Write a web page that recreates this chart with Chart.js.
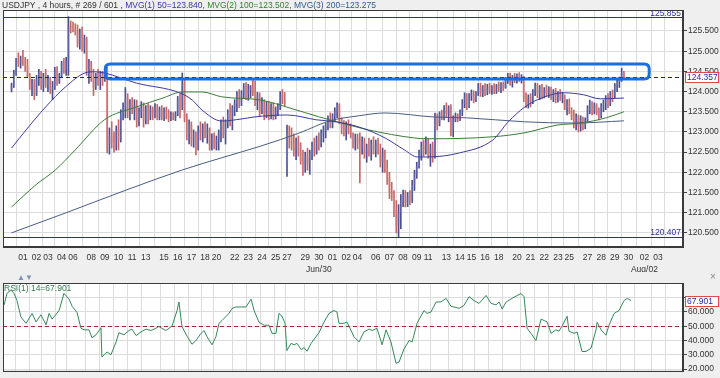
<!DOCTYPE html>
<html><head><meta charset="utf-8">
<script src="https://cdn.jsdelivr.net/npm/chart.js@4.4.0/dist/chart.umd.min.js"></script>
<style>
html,body{margin:0;padding:0;background:#efefef;}
body{width:720px;height:378px;position:relative;overflow:hidden;font-family:"Liberation Sans",Arial,sans-serif;}
#main{position:absolute;left:0;top:0;width:720px;height:272px;}
#rsi{position:absolute;left:0;top:272px;width:720px;height:106px;}
#hdr{position:absolute;left:2px;top:0px;font-size:8.5px;line-height:10px;color:#333;white-space:nowrap;}
#arrows{position:absolute;left:17px;top:273px;font-size:8px;line-height:9px;color:#7f93b5;}
#xbtn{position:absolute;left:710px;top:271px;font-size:10px;line-height:11px;color:#888;}
#rsiLbl{position:absolute;left:4px;top:283px;font-size:8.5px;line-height:10px;color:#2f8050;}
</style></head>
<body>
<div id="main"><canvas id="c1"></canvas></div>
<div id="rsi"><canvas id="c2"></canvas></div>
<div id="hdr">USDJPY , 4 hours, # 269 / 601 , <span style="color:#3535a5">MVG(1) 50=123.840,</span> <span style="color:#2f7f2f">MVG(2) 100=123.502,</span> <span style="color:#2d5a8c">MVG(3) 200=123.275</span></div>
<div id="arrows">▲▼</div>
<div id="xbtn">×</div>
<div id="rsiLbl">RSI(1) 14=67.901</div>
<script>
// ---------- DATA ----------
const opens = [124.05,124.15,124.45,124.75,124.70,124.82,124.75,124.62,124.40,124.12,
124.20,123.95,124.30,124.45,124.15,124.35,124.20,124.30,124.05,124.10,
124.50,124.25,124.40,124.70,124.55,124.75,125.62,125.60,125.55,125.50,
125.20,125.45,125.10,125.30,124.55,124.70,124.35,124.10,124.40,124.25,
124.45,124.30,124.55,122.70,122.90,122.75,122.65,123.05,122.80,123.45,
123.60,123.85,123.50,123.70,123.55,123.65,123.25,123.50,123.60,123.30,
123.55,123.40,123.55,123.45,123.60,123.38,123.55,123.40,123.50,123.45,
123.35,123.42,123.35,123.45,123.80,123.60,124.20,123.35,122.95,123.15,
122.80,122.90,122.60,123.05,122.95,123.10,122.95,123.05,122.70,122.85,
122.65,122.80,122.95,123.20,122.95,123.25,123.45,123.30,123.60,123.70,
123.90,123.75,123.95,124.10,123.95,124.05,124.12,124.00,123.75,123.90,
123.50,123.70,123.40,123.65,123.45,123.60,123.38,123.55,123.62,123.90,
123.80,122.20,122.95,122.85,122.70,122.55,122.75,122.50,122.30,122.10,
122.40,122.20,122.45,122.65,122.50,122.80,122.70,122.95,123.05,123.15,
123.30,123.20,123.40,123.50,123.65,123.30,123.10,123.00,123.15,123.05,
122.95,122.75,122.85,122.70,122.60,122.75,122.45,122.60,122.55,122.70,
122.55,122.72,122.50,122.25,122.45,122.10,121.85,121.50,121.40,121.05,
120.70,121.00,121.30,121.45,121.25,121.40,121.30,121.70,121.95,122.15,
122.45,122.65,122.55,122.75,122.45,122.60,122.40,123.35,123.20,123.45,
123.40,123.55,123.45,123.60,123.05,123.30,123.40,123.35,123.50,123.70,
123.85,123.65,123.90,123.95,123.80,123.98,124.10,123.95,124.12,124.00,
124.10,124.05,124.12,124.00,124.15,124.08,124.18,124.10,124.30,124.38,
124.25,124.35,124.30,124.40,124.32,124.36,123.85,123.70,123.85,123.75,
124.00,124.15,123.95,124.10,123.90,124.05,123.95,124.08,123.88,124.00,
123.80,123.95,123.85,123.90,123.60,123.70,123.50,123.40,123.20,123.35,
123.15,123.30,123.15,123.30,123.55,123.70,123.50,123.65,123.48,123.40,
123.65,123.72,123.80,123.70,123.95,123.90,124.15,124.25,124.30,124.45];
const highs = [124.21,124.53,124.82,124.96,124.88,125.02,124.85,124.80,124.45,124.30,
124.30,124.40,124.55,124.50,124.45,124.55,124.40,124.35,124.25,124.60,
124.62,124.45,124.75,124.82,124.85,125.855,125.75,125.72,125.68,125.65,
125.55,125.60,125.40,125.35,124.80,124.75,124.55,124.45,124.55,124.50,
124.50,124.62,124.60,123.10,123.25,123.00,123.15,123.30,123.55,123.72,
124.10,123.95,123.80,123.85,123.80,123.79,123.60,123.75,123.72,123.65,
123.70,123.65,123.62,123.70,123.68,123.62,123.65,123.60,123.62,123.55,
123.50,123.48,123.50,123.88,123.95,124.46,124.30,123.45,123.30,123.25,
123.05,123.00,123.15,123.25,123.20,123.25,123.20,123.10,122.95,122.98,
122.90,123.05,123.30,123.37,123.30,123.55,123.70,123.65,123.80,124.00,
124.05,124.02,124.20,124.22,124.18,124.15,124.29,124.26,123.98,123.97,
123.85,123.80,123.75,123.75,123.70,123.72,123.62,123.70,124.00,124.05,
123.98,123.17,123.15,123.10,122.95,122.85,122.90,122.73,122.55,122.50,
122.60,122.55,122.75,122.85,122.90,122.98,123.05,123.15,123.22,123.40,
123.47,123.45,123.60,123.72,123.70,123.35,123.28,123.25,123.30,123.20,
122.98,122.95,122.95,122.98,122.88,122.85,122.70,122.85,122.80,122.88,
122.80,122.85,122.70,122.60,122.55,122.30,122.00,121.75,121.55,121.30,
121.20,121.45,121.56,121.55,121.50,121.55,121.80,122.05,122.25,122.55,
122.75,122.80,122.88,122.85,122.70,122.75,123.47,123.45,123.50,123.54,
123.65,123.72,123.65,123.68,123.40,123.47,123.45,123.55,123.80,123.97,
123.95,123.95,124.04,124.02,124.00,124.20,124.21,124.15,124.20,124.18,
124.21,124.15,124.20,124.18,124.24,124.22,124.24,124.35,124.45,124.46,
124.40,124.45,124.44,124.47,124.42,124.38,123.97,123.92,123.95,124.05,
124.21,124.20,124.15,124.18,124.10,124.16,124.12,124.11,124.05,124.08,
124.00,124.05,123.98,123.92,123.80,123.82,123.60,123.54,123.45,123.42,
123.40,123.37,123.35,123.65,123.79,123.75,123.72,123.70,123.60,123.70,
123.79,123.90,123.95,124.00,124.04,124.20,124.30,124.36,124.58,124.50];
const lows = [123.99,124.10,124.40,124.62,124.58,124.65,124.50,124.36,124.05,123.90,
123.80,123.90,124.15,124.05,124.00,124.10,124.00,123.95,123.80,124.05,
124.15,124.20,124.35,124.45,124.40,124.40,125.45,125.48,125.40,125.10,
125.05,125.00,124.95,124.40,124.20,124.25,123.90,124.05,124.15,124.05,
124.15,124.25,122.48,122.45,122.60,122.50,122.55,122.55,122.75,123.30,
123.35,123.35,123.30,123.45,123.30,123.12,123.15,123.35,123.12,123.20,
123.20,123.30,123.30,123.35,123.30,123.30,123.30,123.28,123.32,123.25,
123.28,123.30,123.28,123.40,123.35,123.55,123.25,122.80,122.70,122.65,
122.62,122.43,122.55,122.80,122.75,122.85,122.72,122.55,122.55,122.58,
122.55,122.55,122.75,122.85,122.70,123.10,123.15,123.05,123.40,123.50,
123.60,123.65,123.85,123.80,123.78,123.85,123.90,123.65,123.55,123.40,
123.45,123.30,123.35,123.30,123.32,123.30,123.32,123.40,123.55,123.70,
123.65,121.90,122.60,122.55,122.40,122.31,122.40,122.20,121.92,122.00,
122.05,121.95,122.31,122.40,122.45,122.55,122.63,122.75,122.85,123.05,
123.10,123.10,123.25,123.35,123.20,122.95,122.90,122.80,122.95,122.85,
122.60,122.55,122.58,121.74,122.45,122.35,122.25,122.40,122.30,122.45,
122.38,122.45,122.13,122.00,122.00,121.70,121.35,121.30,120.90,120.50,
120.407,120.60,121.15,121.14,121.15,121.20,121.25,121.55,121.85,122.10,
122.30,122.40,122.45,122.35,122.15,122.25,122.35,123.05,123.15,123.30,
123.30,123.35,123.25,122.90,122.88,123.25,123.25,123.28,123.40,123.60,
123.55,123.60,123.78,123.72,123.75,123.90,123.88,123.87,123.90,123.92,
123.95,123.93,123.95,123.95,124.00,123.97,124.02,124.08,124.20,124.15,
124.11,124.22,124.21,124.25,124.21,123.75,123.60,123.59,123.62,123.70,
123.90,123.85,123.80,123.82,123.84,123.88,123.85,123.80,123.75,123.72,
123.74,123.78,123.72,123.55,123.42,123.45,123.30,123.10,123.05,123.00,
123.02,123.05,123.08,123.25,123.45,123.42,123.45,123.42,123.30,123.35,
123.50,123.55,123.60,123.65,123.75,123.85,124.00,124.10,124.25,124.30];
const closes = [124.15,124.45,124.75,124.70,124.82,124.75,124.62,124.40,124.12,124.20,
123.95,124.30,124.45,124.15,124.35,124.20,124.30,124.05,124.10,124.50,
124.25,124.40,124.70,124.55,124.75,125.62,125.60,125.55,125.50,125.20,
125.45,125.10,125.30,124.55,124.70,124.35,124.10,124.40,124.25,124.45,
124.30,124.55,122.70,122.90,122.75,122.65,123.05,122.80,123.45,123.60,
123.85,123.50,123.70,123.55,123.65,123.25,123.50,123.60,123.30,123.55,
123.40,123.55,123.45,123.60,123.38,123.55,123.40,123.50,123.45,123.35,
123.42,123.35,123.45,123.80,123.60,124.20,123.35,122.95,123.15,122.80,
122.90,122.60,123.05,122.95,123.10,122.95,123.05,122.70,122.85,122.65,
122.80,122.95,123.20,122.95,123.25,123.45,123.30,123.60,123.70,123.90,
123.75,123.95,124.10,123.95,124.05,124.12,124.00,123.75,123.90,123.50,
123.70,123.40,123.65,123.45,123.60,123.38,123.55,123.62,123.90,123.80,
123.72,122.95,122.85,122.70,122.55,122.75,122.50,122.30,122.10,122.40,
122.20,122.45,122.65,122.50,122.80,122.70,122.95,123.05,123.15,123.30,
123.20,123.40,123.50,123.65,123.30,123.10,123.00,123.15,123.05,122.95,
122.75,122.85,122.70,122.60,122.75,122.45,122.60,122.55,122.70,122.55,
122.72,122.50,122.25,122.45,122.10,121.85,121.50,121.40,121.05,120.70,
121.00,121.30,121.45,121.25,121.40,121.30,121.70,121.95,122.15,122.45,
122.65,122.55,122.75,122.45,122.60,122.40,123.35,123.20,123.45,123.40,
123.55,123.45,123.60,123.05,123.30,123.40,123.35,123.50,123.70,123.85,
123.65,123.90,123.95,123.80,123.98,124.10,123.95,124.12,124.00,124.10,
124.05,124.12,124.00,124.15,124.08,124.18,124.10,124.30,124.38,124.25,
124.35,124.30,124.40,124.32,124.36,123.85,123.70,123.85,123.75,124.00,
124.15,123.95,124.10,123.90,124.05,123.95,124.08,123.88,124.00,123.80,
123.95,123.85,123.90,123.60,123.70,123.50,123.40,123.20,123.35,123.15,
123.30,123.15,123.30,123.55,123.70,123.50,123.65,123.48,123.40,123.65,
123.72,123.80,123.70,123.95,123.90,124.15,124.25,124.30,124.45,124.357];

// moving averages: bar position / value
const ma50Bar = [0,6.4,15,23.6,32.2,36.5,40.8,54.9,73.8,79.4,83.7,92.3,100.9,106.5,121.1,134,142.6,153.8,164.1,172.7,178.3,182.6,196.7,211.4,218.2,225.5,232.8,242.7,251.3,258.6,269];
const ma50Val = [122.60,123.05,123.62,124.11,124.46,124.49,124.46,124.21,123.97,123.79,123.54,123.27,123.32,123.37,123.42,123.30,123.25,123.10,122.85,122.55,122.38,122.38,122.48,122.80,123.25,123.62,123.84,123.97,123.92,123.82,123.84];
const ma100Bar = [0,10.7,19.3,27.9,40.8,54.9,66.5,75.1,83.7,92.3,109.5,122.4,135.3,141.7,156.8,177,182.6,211.4,225.5,239.7,250,261.2,269];
const ma100Val = [121.14,121.69,122.06,122.55,123.30,123.62,123.84,123.99,123.99,123.87,123.79,123.59,123.37,123.27,123.05,122.85,122.83,122.88,122.98,123.17,123.22,123.35,123.50];
const ma200Bar = [0,23.6,49.4,75.1,92.3,109.5,126.7,139.6,152.5,164.1,185.6,199.8,225.5,247,269];
const ma200Val = [120.50,120.99,121.54,122.06,122.36,122.65,122.98,123.27,123.40,123.47,123.37,123.35,123.25,123.22,123.275];

// RSI(14): bar position / value
const rsiBar = [0,1.2,2.9,4.2,5.5,7.2,9.4,12,13.7,15.8,18,19.3,20.6,23.6,25.7,27.9,29.2,31.3,33,34.3,36.5,37.7,39.5,41.6,42,44.2,45.9,48.1,49.3,51.5,53.6,54.9,56.7,58.8,61,63.1,65.2,66.5,69.5,72.1,74.3,75.1,76.4,77.3,78.6,80.7,82.4,84.6,85.9,87.2,89.3,91,92.3,93.6,96.6,97.9,99.6,101.8,103.9,106.1,107.4,109.5,111.7,113.8,115.1,116.8,118.1,119.4,120.7,121.5,123.3,124.6,125.8,127.6,128.9,130.1,131.9,133.2,135.3,137.4,139.6,141.7,143,143.9,146,147.3,149.1,150.3,152.5,154.6,156.8,158.1,160.2,162.4,164.1,166.2,168.4,169.7,171.8,174,175.3,177.4,180.4,181.7,183.4,185.6,187.7,189.9,192,195.5,197.6,199.8,201.9,204.1,207.1,209.2,211.4,212.7,214,215.7,218.2,222.1,223.4,224.7,226.8,228.5,230.7,232,233.3,235,237.1,238.4,239.7,241.9,242.7,244.9,246.2,248.3,250,252.2,254.4,254.8,256.5,258.6,259.9,262.1,264.2,266.4,267.7,269.4];
const rsiVal = [65,73,75.4,73,68,56.5,52,59,53,58,51,59,55,61,73,69,64,59.7,48.6,47.5,47.4,42,44,49,28.5,32,30,39,45.5,44,47,48,43.5,46,48,47,48.6,49.8,47,50,61,67,50,47,43,37.4,40,45,47,42.6,37,42.6,52,54,59,62.4,63.5,63.5,63.5,69,61,52.8,50.7,50.7,45,45,59,57,52,33,38,37,38,33.6,35,32.5,38,41,45.5,52.8,59,61,60,52,52,53,47,42.6,39,46,48,47,48.6,37,47.5,39,24,25,34,40,39,52,61,59,60,67,67,69.5,64,62.6,64.6,70.7,68,66,71.6,66,65,67,62,67,69.5,73,70.7,48.6,44,40,55,54,53,45,47.5,46.5,50,57,46.5,45,46,32.3,32.3,34.7,48,52.8,47.5,43.7,50.7,59,61,68,69.5,67.9];
const rsiLast = 67.901;
const rsiMid = 50;

// axis ticks / labels
const tickBars = [5,11,16,22,27,35,41,47,53,59,67,73,79,85,90,98,104,110,116,121,129,135,141,147,152,160,166,172,178,183,191,197,202,208,214,222,228,234,240,245,253,259,265,271,278,284];
const dayLabels = ['01','02','03','04','06','08','09','10','11','13','15','16','17','18','20','22','23','24','25','27','29','30','01','02','04','06','07','08','09','11','13','14','15','16','18','20','21','22','23','25','27','28','29','30','02','03'];
const monthAt = [21,44];
const monthText = ['Jun/30','Aug/02'];
const priceTicks = [120.5,121,121.5,122,122.5,123,123.5,124,124.5,125,125.5];
const rsiTicks = [20,30,40,50,60,70];

// marked levels and highlighted zone
const rangeHigh = 125.855, rangeLow = 120.407;
const zoneFrom = 41.2, zoneTo = 280.1, zoneTop = 124.68, zoneBottom = 124.31;

// ---------- CHART ----------
Chart.defaults.font.family = '"Liberation Sans", Arial, sans-serif';
Chart.defaults.font.size = 8.5;
Chart.defaults.color = '#333';
Chart.defaults.animation = false;

const X_MIN = -0.5, X_MAX = 291.7;
const FONT = '8.5px "Liberation Sans", Arial, sans-serif';

function rrect(ctx, x, y, w, h, r) {
  ctx.beginPath();
  ctx.moveTo(x + r, y); ctx.lineTo(x + w - r, y); ctx.quadraticCurveTo(x + w, y, x + w, y + r);
  ctx.lineTo(x + w, y + h - r); ctx.quadraticCurveTo(x + w, y + h, x + w - r, y + h);
  ctx.lineTo(x + r, y + h); ctx.quadraticCurveTo(x, y + h, x, y + h - r);
  ctx.lineTo(x, y + r); ctx.quadraticCurveTo(x, y, x + r, y); ctx.closePath();
}
function axisBox(chart, value, text) {
  const {ctx, chartArea: a, scales: {y}} = chart;
  const py = Math.round(y.getPixelForValue(value));
  ctx.save();
  ctx.fillStyle = '#fff'; ctx.fillRect(a.right + 2, py - 5, 34, 11);
  ctx.strokeStyle = '#e04a4a'; ctx.lineWidth = 1; ctx.strokeRect(a.right + 2.5, py - 4.5, 33, 10);
  ctx.fillStyle = '#2828a0'; ctx.font = FONT; ctx.textAlign = 'left'; ctx.textBaseline = 'middle';
  ctx.fillText(text, a.right + 4, py + 0.5);
  ctx.restore();
}
function frame(chart) {
  const {ctx, chartArea: a} = chart;
  ctx.save(); ctx.strokeStyle = '#3a3a3a'; ctx.lineWidth = 1;
  ctx.strokeRect(a.left + 0.5, a.top + 0.5, a.right - a.left - 1, a.bottom - a.top - 1);
  ctx.restore();
}
function whiteBg(chart) {
  const {ctx, chartArea: a} = chart;
  ctx.save(); ctx.fillStyle = '#fff'; ctx.fillRect(a.left, a.top, a.right - a.left, a.bottom - a.top); ctx.restore();
}

const mainDeco = {
  id: 'mainDeco',
  beforeDraw: whiteBg,
  afterDatasetsDraw(chart) {
    const {ctx, chartArea: a, scales: {x, y}} = chart;
    ctx.save();
    ctx.lineWidth = 1; ctx.strokeStyle = '#2e2e86';
    [rangeHigh, rangeLow].forEach(v => {
      const py = Math.round(y.getPixelForValue(v)) + 0.5;
      ctx.beginPath(); ctx.moveTo(a.left, py); ctx.lineTo(a.right, py); ctx.stroke();
    });
    ctx.fillStyle = '#2e2e9a'; ctx.font = FONT; ctx.textAlign = 'right'; ctx.textBaseline = 'bottom';
    ctx.fillText(rangeHigh.toFixed(3), a.right - 2, Math.round(y.getPixelForValue(rangeHigh)) + 1);
    ctx.fillText(rangeLow.toFixed(3), a.right - 2, Math.round(y.getPixelForValue(rangeLow)));
    const last = closes[closes.length - 1];
    const pl = Math.round(y.getPixelForValue(last)) + 0.5;
    ctx.setLineDash([4, 3]); ctx.strokeStyle = '#23237a';
    ctx.beginPath(); ctx.moveTo(a.left, pl); ctx.lineTo(a.right, pl); ctx.stroke();
    ctx.setLineDash([]);
    const bx0 = x.getPixelForValue(zoneFrom), bx1 = x.getPixelForValue(zoneTo);
    const by0 = y.getPixelForValue(zoneTop), by1 = y.getPixelForValue(zoneBottom);
    ctx.strokeStyle = '#1b6de0'; ctx.lineWidth = 3;
    rrect(ctx, bx0, by0, bx1 - bx0, by1 - by0, 5); ctx.stroke();
    ctx.restore();
  },
  afterDraw(chart) {
    frame(chart);
    axisBox(chart, closes[closes.length - 1], closes[closes.length - 1].toFixed(3));
  }
};

const rsiDeco = {
  id: 'rsiDeco',
  beforeDraw: whiteBg,
  beforeDatasetsDraw(chart) {
    const {ctx, chartArea: a, scales: {y}} = chart;
    const py = Math.round(y.getPixelForValue(rsiMid)) + 0.5;
    ctx.save(); ctx.strokeStyle = '#a32a2a'; ctx.lineWidth = 1; ctx.setLineDash([4, 3]);
    ctx.beginPath(); ctx.moveTo(a.left, py); ctx.lineTo(a.right, py); ctx.stroke(); ctx.restore();
  },
  afterDraw(chart) {
    frame(chart);
    axisBox(chart, rsiLast, rsiLast.toFixed(3));
  }
};

const idx = closes.map((_, i) => i);
const isUp = i => closes[i] >= opens[i];

const xCommon = {
  type: 'linear', min: X_MIN, max: X_MAX,
  afterBuildTicks: s => { s.ticks = tickBars.map(v => ({value: v})); },
  grid: {color: '#dcdcdc', drawTicks: false},
  border: {color: '#3a3a3a'}
};

new Chart(document.getElementById('c1'), {
  type: 'bar',
  data: {
    datasets: [
      {type: 'line', data: ma50Bar.map((b, k) => ({x: b, y: ma50Val[k]})), borderColor: '#3b3b9e', borderWidth: 1, pointRadius: 0, cubicInterpolationMode: 'monotone', fill: false, order: 1},
      {type: 'line', data: ma100Bar.map((b, k) => ({x: b, y: ma100Val[k]})), borderColor: '#3b7d3b', borderWidth: 1, pointRadius: 0, cubicInterpolationMode: 'monotone', fill: false, order: 1},
      {type: 'line', data: ma200Bar.map((b, k) => ({x: b, y: ma200Val[k]})), borderColor: '#4a5e82', borderWidth: 1, pointRadius: 0, cubicInterpolationMode: 'monotone', fill: false, order: 1},
      {type: 'bar', data: idx.map(i => ({x: i, y: [opens[i], closes[i]]})), backgroundColor: idx.map(i => isUp(i) ? 'rgba(120,130,195,0.35)' : 'rgba(220,130,130,0.4)'), barThickness: 1.6, grouped: false, order: 2},
      {type: 'bar', data: idx.map(i => ({x: i, y: [lows[i], highs[i]]})), backgroundColor: idx.map(i => isUp(i) ? '#4b4f8f' : '#c46868'), barThickness: 1, grouped: false, order: 3}
    ]
  },
  options: {
    responsive: true, maintainAspectRatio: false, animation: false, events: [],
    layout: {padding: {left: 3, top: 10, right: 0, bottom: 0}},
    plugins: {legend: {display: false}, tooltip: {enabled: false}},
    scales: {
      x: Object.assign({}, xCommon, {
        afterFit: s => { s.height = 25; },
        ticks: {autoSkip: false, maxRotation: 0, minRotation: 0, padding: 4, color: '#333',
          font: {size: 8.5, lineHeight: 1.45},
          callback: (v, i) => { const k = monthAt.indexOf(i); return k >= 0 ? [dayLabels[i], monthText[k]] : dayLabels[i]; }}
      }),
      y: {
        position: 'right', min: 120.15, max: 126.02,
        afterBuildTicks: s => { s.ticks = priceTicks.map(v => ({value: v})); },
        afterFit: s => { s.width = 37; },
        ticks: {padding: 1, color: '#333', font: {size: 8.5}, callback: v => v.toFixed(3)},
        grid: {color: '#dcdcdc', tickColor: '#444', tickLength: 4},
        border: {color: '#3a3a3a'}
      }
    }
  },
  plugins: [mainDeco]
});

new Chart(document.getElementById('c2'), {
  type: 'line',
  data: {
    datasets: [
      {data: rsiBar.map((b, k) => ({x: b, y: rsiVal[k]})), borderColor: '#35895a', borderWidth: 1, pointRadius: 0, fill: false, tension: 0}
    ]
  },
  options: {
    responsive: true, maintainAspectRatio: false, animation: false, events: [],
    layout: {padding: {left: 3, top: 11, right: 0, bottom: 0}},
    plugins: {legend: {display: false}, tooltip: {enabled: false}},
    scales: {
      x: Object.assign({}, xCommon, {
        afterFit: s => { s.height = 6; },
        ticks: {display: false}
      }),
      y: {
        position: 'right', min: 18, max: 80.3,
        afterBuildTicks: s => { s.ticks = rsiTicks.map(v => ({value: v})); },
        afterFit: s => { s.width = 37; },
        ticks: {padding: 1, color: '#333', font: {size: 8.5}, callback: v => v === 70 ? '' : v.toFixed(3)},
        grid: {color: '#dcdcdc', tickColor: '#444', tickLength: 4},
        border: {color: '#3a3a3a'}
      }
    }
  },
  plugins: [rsiDeco]
});
</script>
</body></html>
